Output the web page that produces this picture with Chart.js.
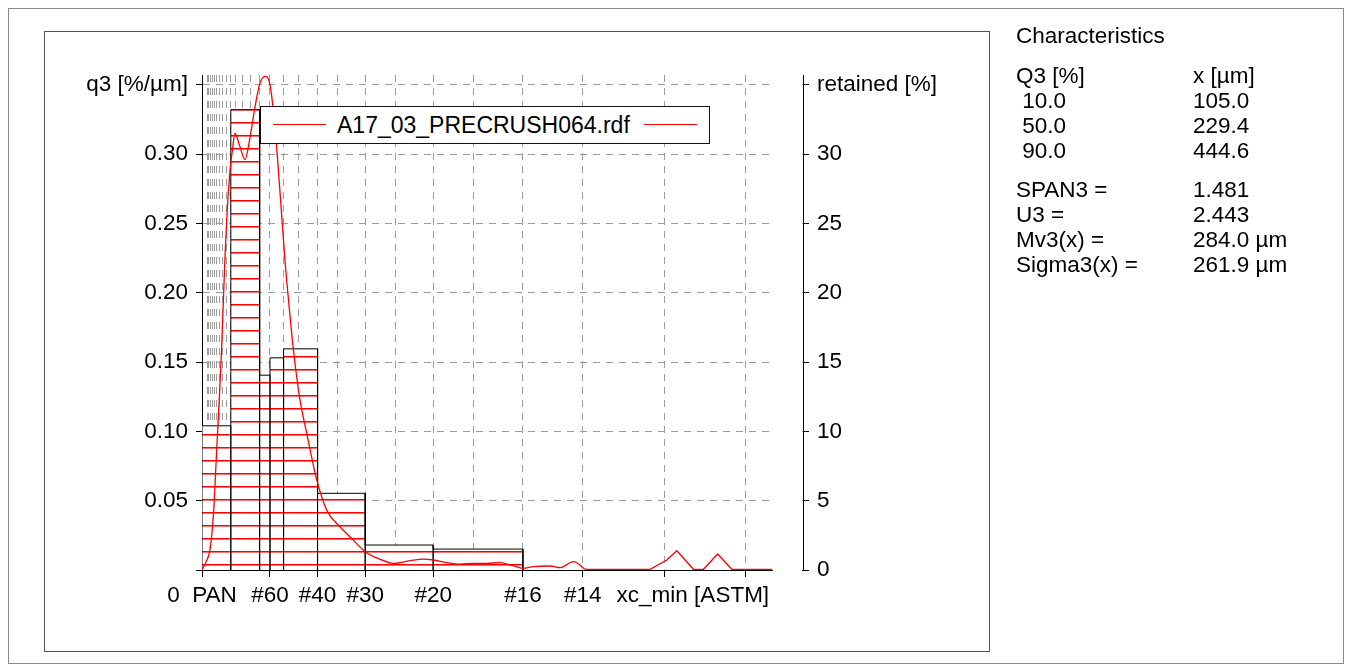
<!DOCTYPE html>
<html>
<head>
<meta charset="utf-8">
<title>q3 distribution</title>
<script src="https://cdn.jsdelivr.net/npm/chart.js@4.4.1/dist/chart.umd.min.js"></script>
<style>
  html, body { margin: 0; padding: 0; background: #fff; }
  body {
    width: 1352px; height: 671px; position: relative; overflow: hidden;
    font-family: "Liberation Sans", Arial, sans-serif; color: #000;
  }
  .frame-outer { position: absolute; left: 8px; top: 8px; width: 1334px; height: 654px; border: 1px solid #8a8a8a; }
  .frame-inner { position: absolute; left: 44px; top: 31px; width: 944px; height: 619px; border: 1px solid #555; }
  #chart { position: absolute; left: 0; top: 0; }
  .legend-box {
    position: absolute; left: 260px; top: 106px; width: 448px; height: 36px;
    border: 1.5px solid #111; background: #fff;
  }
  .legend-box .sample { position: absolute; top: 17px; width: 53px; height: 0; border-top: 1px solid #ff0000; }
  .legend-box .name { position: absolute; left: 76px; top: 5px; font-size: 23px; line-height: 26px; white-space: nowrap; }
  .stats { position: absolute; left: 1016px; top: 23px; font-size: 22.5px; line-height: 25px; }
  .stats div { white-space: nowrap; height: 25px; }
  .stats .row span { display: inline-block; width: 177px; }
  .stats .gap { margin-top: 15px; }
  .stats .gap2 { margin-top: 14px; }
</style>
</head>
<body>
<div class="frame-outer"></div>
<div class="frame-inner"></div>
<canvas id="chart" width="1352" height="671"></canvas>

<div class="legend-box">
  <div class="sample" style="left:12px"></div>
  <div class="name">A17_03_PRECRUSH064.rdf</div>
  <div class="sample" style="left:383px"></div>
</div>

<div class="stats">
  <div>Characteristics</div>
  <div class="row gap"><span>Q3 [%]</span>x [µm]</div>
  <div class="row"><span>&nbsp;10.0</span>105.0</div>
  <div class="row"><span>&nbsp;50.0</span>229.4</div>
  <div class="row"><span>&nbsp;90.0</span>444.6</div>
  <div class="row gap2"><span>SPAN3 =</span>1.481</div>
  <div class="row"><span>U3 =</span>2.443</div>
  <div class="row"><span>Mv3(x) =</span>284.0 µm</div>
  <div class="row"><span>Sigma3(x) =</span>261.9 µm</div>
</div>

<script>
// size classes (µm) and retained mass per class (%)
const classEdges = [0, 106, 212, 250, 300, 425, 600, 850, 1180];
const retained = [10.4, 33.2, 14.05, 15.3, 15.95, 5.53, 1.80, 1.51];

// q3 density curve, x in µm, q3 in %/µm
const q3X = [0, 4, 15, 29, 42, 54, 63, 72, 85, 93, 103, 112, 121, 140, 158, 177, 195, 213, 232, 250,
  268, 287, 305, 318, 336, 360, 385, 422, 459, 508, 544, 600, 655, 704, 765, 814, 851, 900, 949, 998,
  1047, 1096, 1145, 1180, 1219, 1280, 1317, 1366, 1409, 1648, 1709, 1746, 1807, 1844, 1896, 1948, 2096];
const q3Y = [0, 0.0015, 0.006, 0.0144, 0.040, 0.0865, 0.121, 0.159, 0.228, 0.26, 0.288, 0.303, 0.315, 0.305, 0.296, 0.3125, 0.334, 0.351, 0.356, 0.350,
  0.320, 0.272, 0.2236, 0.195, 0.159, 0.123, 0.0988, 0.065, 0.043, 0.031, 0.024, 0.0132, 0.0077, 0.0048, 0.0067, 0.0079, 0.0072, 0.0053, 0.0043, 0.0048,
  0.0048, 0.0053, 0.0029, 0.0012, 0.0024, 0.0029, 0.0017, 0.006, 0.0005, 0.0005, 0.0072, 0.0139, 0.0005, 0.0005, 0.0115, 0.0005, 0.0005];
const smoothEnd = 1409; // curve is smooth up to here, straight segments after

// ASTM sieve openings (µm) -> vertical grid
const sieveGrid = [20, 25, 32, 38, 45, 53, 63, 75, 90, 106, 125, 150, 180, 212, 250, 300, 355, 425, 500,
  600, 710, 850, 1000, 1180, 1400, 1700, 2000];

// x tick labels
const xTickValues = [0, 250, 425, 600, 850, 1180, 1400, 1700, 1805, 2000];
const xTickLabels = ['0  PAN', '#60', '#40', '#30', '#20', '#16', '#14', '', 'xc_min [ASTM]', ''];
const xTickMarks = [0, 250, 425, 600, 850, 1180, 1400, 1700, 2000];

// y axes
const leftTicks = [0, 0.05, 0.10, 0.15, 0.20, 0.25, 0.30, 0.35];
const leftTickLabels = ['', '0.05', '0.10', '0.15', '0.20', '0.25', '0.30', 'q3 [%/µm]'];
const rightTicks = [0, 5, 10, 15, 20, 25, 30, 35];
const rightTickLabels = ['0', '5', '10', '15', '20', '25', '30', 'retained [%]'];

const xMax = 2210;
const yMax = 0.357;

// histogram outline: up and down every class edge
const histPoints = [];
retained.forEach((v, i) => {
  histPoints.push({ x: classEdges[i], y: 0 }, { x: classEdges[i], y: v },
    { x: classEdges[i + 1], y: v }, { x: classEdges[i + 1], y: 0 });
});

const curvePts = q3X.map((x, i) => ({ x: x, y: q3Y[i] }));
const smoothPts = curvePts.filter(p => p.x <= smoothEnd);
const tailPts = curvePts.filter(p => p.x >= smoothEnd);

// red horizontal hatch on white
const HATCH = 13;
const tile = document.createElement('canvas');
tile.width = 4; tile.height = HATCH;
const tctx = tile.getContext('2d');
tctx.fillStyle = '#fff';
tctx.fillRect(0, 0, 4, HATCH);
tctx.fillStyle = '#ff0000';
tctx.fillRect(0, 0, 4, 1);
tctx.fillStyle = 'rgba(255,0,0,0.55)';
tctx.fillRect(0, 1, 4, 1);
const hatch = tctx.createPattern(tile, 'repeat');

const gridSetX = new Set(sieveGrid);
const markSetX = new Set(xTickMarks);
const labelMapX = new Map(xTickValues.map((v, i) => [v, xTickLabels[i]]));
const allXTicks = Array.from(new Set([...sieveGrid, ...xTickValues, 0])).sort((a, b) => a - b);

const GRID = '#9c9c9c';
const CLEAR = 'rgba(0,0,0,0)';

Chart.defaults.font.family = '"Liberation Sans", Arial, sans-serif';
Chart.defaults.font.size = 22.5;
Chart.defaults.color = '#000';

const plotExtras = {
  id: 'plotExtras',
  beforeDatasetsDraw(chart) {
    const { ctx, chartArea, scales } = chart;
    // align hatch lines to the baseline
    const y0 = scales.y1.getPixelForValue(0);
    hatch.setTransform(new DOMMatrix().translate(0, ((y0 - 6) % HATCH + HATCH) % HATCH));
    // plot area stops where the curve stops, the right axis sits further out
    const xEnd = scales.x.getPixelForValue(q3X[q3X.length - 1]);
    ctx.save();
    ctx.fillStyle = '#fff';
    ctx.fillRect(xEnd + 1, chartArea.top - 1, chartArea.right - xEnd - 2, chartArea.bottom - chartArea.top + 3);
    ctx.restore();
  }
};

new Chart(document.getElementById('chart'), {
  type: 'line',
  data: {
    datasets: [
      {
        label: 'retained',
        data: histPoints,
        yAxisID: 'y1',
        borderColor: '#000',
        borderWidth: 1,
        backgroundColor: hatch,
        fill: 'origin',
        tension: 0,
        pointRadius: 0,
        order: 3
      },
      {
        label: 'A17_03_PRECRUSH064.rdf',
        data: smoothPts,
        yAxisID: 'y',
        borderColor: '#ff0000',
        borderWidth: 1.3,
        cubicInterpolationMode: 'monotone',
        fill: false,
        pointRadius: 0,
        order: 1
      },
      {
        label: 'tail',
        data: tailPts,
        yAxisID: 'y',
        borderColor: '#ff0000',
        borderWidth: 1.3,
        tension: 0,
        fill: false,
        pointRadius: 0,
        order: 1
      }
    ]
  },
  options: {
    responsive: false,
    animation: false,
    events: [],
    layout: { padding: { left: 52, right: 399, top: 75, bottom: 51 } },
    plugins: {
      legend: { display: false },
      tooltip: { enabled: false }
    },
    scales: {
      x: {
        type: 'linear',
        min: 0,
        max: xMax,
        afterFit: s => { s.height = 50; },
        afterBuildTicks: s => { s.ticks = allXTicks.map(v => ({ value: v })); },
        ticks: {
          autoSkip: false,
          maxRotation: 0,
          minRotation: 0,
          padding: 5,
          callback: v => labelMapX.get(v) || ''
        },
        grid: {
          color: c => (c.tick && gridSetX.has(c.tick.value)) ? GRID : CLEAR,
          tickColor: c => (c.tick && markSetX.has(c.tick.value)) ? '#000' : CLEAR,
          tickLength: 7,
          lineWidth: 1
        },
        border: { display: true, color: '#000', width: 1, dash: [7, 6] }
      },
      y: {
        position: 'left',
        min: 0,
        max: yMax,
        afterFit: s => { s.width = 150; },
        afterBuildTicks: s => { s.ticks = leftTicks.map(v => ({ value: v })); },
        ticks: {
          padding: 8,
          callback: (v, i) => leftTickLabels[i]
        },
        grid: {
          color: c => (c.index > 0) ? GRID : CLEAR,
          tickColor: '#000',
          tickLength: 6
        },
        border: { display: true, color: '#000', width: 1, dash: [7, 6] }
      },
      y1: {
        position: 'right',
        min: 0,
        max: yMax * 100,
        afterFit: s => { s.width = 150; },
        afterBuildTicks: s => { s.ticks = rightTicks.map(v => ({ value: v })); },
        ticks: {
          padding: 8,
          callback: (v, i) => rightTickLabels[i]
        },
        grid: {
          drawOnChartArea: false,
          tickColor: '#000',
          tickLength: 6
        },
        border: { display: true, color: '#000', width: 1 }
      }
    }
  },
  plugins: [plotExtras]
});
</script>
</body>
</html>
